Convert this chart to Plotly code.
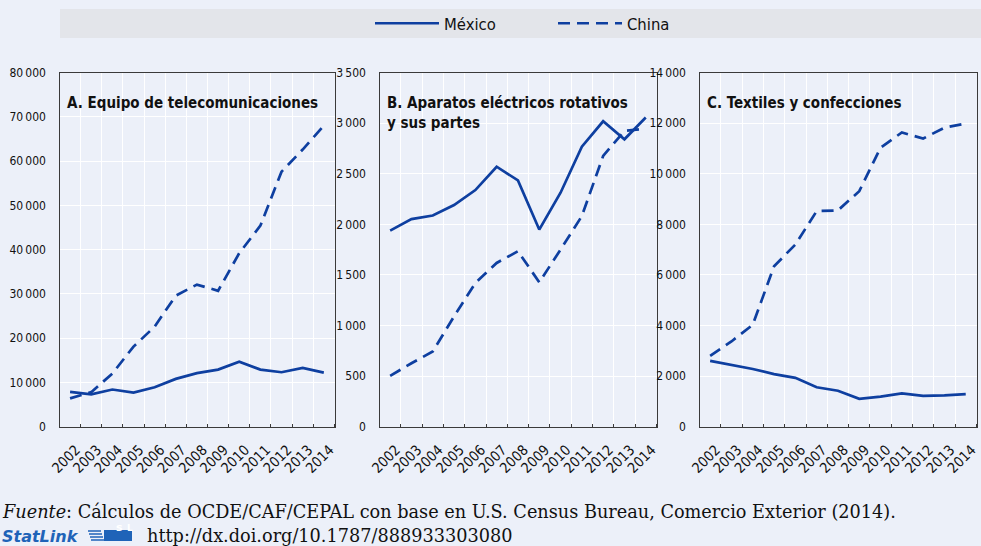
import plotly.graph_objects as go

# Years on the horizontal axis
years = list(range(2002, 2015))

# A. Equipo de telecomunicaciones (millones de USD)
telecom_mexico = [7850, 7300, 8400, 7700, 8900, 10800, 12100, 12900, 14700, 12900, 12300, 13300, 12200]
telecom_china = [6400, 7800, 12000, 18100, 22600, 29600, 32100, 30700, 39200, 45400, 57600, 62600, 68000]

# B. Aparatos eléctricos rotativos y sus partes
rotativos_mexico = [1938, 2051, 2087, 2190, 2338, 2569, 2434, 1948, 2312, 2767, 3018, 2840, 3055]
rotativos_china = [502, 627, 743, 1090, 1420, 1618, 1734, 1427, 1750, 2081, 2675, 2923, 2946]

# C. Textiles y confecciones
textiles_mexico = [2600, 2450, 2280, 2080, 1930, 1560, 1420, 1100, 1190, 1320, 1220, 1240, 1290]
textiles_china = [2800, 3370, 4030, 6340, 7200, 8520, 8550, 9310, 11030, 11630, 11390, 11820, 11980]

panel_titles = ["A. Equipo de telecomunicaciones",
                "B. Aparatos eléctricos rotativos<br>y sus partes",
                "C. Textiles y confecciones"]
y_max = [80000, 3500, 14000]
y_step = [10000, 500, 2000]
series_names = ["México", "China"]

W, H = 981, 546
BG = "#ECF0F9"
BLUE = "#0E3FA0"
AXIS = "#3A3A3A"
FONT = "Liberation Sans Narrow, DejaVu Sans Condensed, Arial Narrow, sans-serif"
SERIF = "DejaVu Serif, Liberation Serif, serif"

# Plot areas in pixels: (left, right)
x_px = [(59.5, 334.5), (379.5, 656.5), (699.5, 976.5)]
y_top, y_bot = 72.5, 426.7


def fx(px):
    return px / W


def fy(py):
    return 1 - py / H


def thou(v):
    return f"{v:,}".replace(",", "\u2009")


fig = go.Figure()
data = [(telecom_mexico, telecom_china), (rotativos_mexico, rotativos_china),
        (textiles_mexico, textiles_china)]

for i, (mex, chn) in enumerate(data):
    sfx = "" if i == 0 else str(i + 1)
    xa, ya = "x" + sfx, "y" + sfx
    fig.add_trace(go.Scatter(x=years, y=mex, mode="lines", name=series_names[0],
                             line=dict(color=BLUE, width=2.7), xaxis=xa, yaxis=ya,
                             legendgroup="mex", showlegend=(i == 0)))
    fig.add_trace(go.Scatter(x=years, y=chn, mode="lines", name=series_names[1],
                             line=dict(color=BLUE, width=2.7, dash="12px,7px"),
                             xaxis=xa, yaxis=ya,
                             legendgroup="chn", showlegend=(i == 0)))

    l, r = x_px[i]
    tick_y = list(range(0, y_max[i] + 1, y_step[i]))
    fig.update_layout(**{
        "xaxis" + sfx: dict(
            domain=[fx(l), fx(r)], anchor=ya, range=[2001.5, 2014.505],
            # year labels sit just left of each category boundary
            tickvals=[y + 0.28 for y in years], ticktext=[str(y) for y in years],
            tickangle=-45, tickfont=dict(size=14.3, color="#111", family=FONT),
            ticklabelstandoff=8, ticklabeloverflow="allow",
            showgrid=False, ticks="",
            # grid lines and tick marks on the category boundaries
            minor=dict(tickmode="array", tickvals=[y + 0.5 for y in years],
                       showgrid=True, gridcolor="white", gridwidth=1,
                       ticks="inside", ticklen=3, tickcolor=AXIS, tickwidth=1.3),
            showline=True, linecolor=AXIS, linewidth=1.3, mirror=True,
            zeroline=False, fixedrange=True, automargin=False),
        "yaxis" + sfx: dict(
            domain=[fy(y_bot), fy(y_top)], anchor=xa, range=[0, y_max[i]],
            tickvals=tick_y, ticktext=[thou(v) for v in tick_y],
            tickfont=dict(size=12, color="#111", family=FONT),
            ticklabelstandoff=10,
            showgrid=True, gridcolor="white", gridwidth=1.3,
            ticks="", showline=True, linecolor=AXIS, linewidth=1.3, mirror=True,
            zeroline=False, fixedrange=True, automargin=False),
    })
    # Panel title inside the plot area
    fig.add_annotation(text="<b>" + panel_titles[i] + "</b>", xref="paper", yref="paper",
                       x=fx(l + 5), y=fy(92), xanchor="left", yanchor="top",
                       align="left", showarrow=False,
                       font=dict(size=15, color="#111", family=FONT))

# Legend band
fig.add_shape(type="rect", xref="paper", yref="paper", x0=fx(60), x1=1,
              y0=fy(38), y1=fy(9), fillcolor="#E3E5EA", line=dict(width=0), layer="below")

# Source note and StatLink
fig.add_annotation(text="<i>Fuente</i>: Cálculos de OCDE/CAF/CEPAL con base en U.S. Census Bureau, "
                        "Comercio Exterior (2014).",
                   xref="paper", yref="paper", x=0, y=fy(512), xanchor="left",
                   yanchor="middle", showarrow=False,
                   font=dict(size=17.7, color="#111", family=SERIF))
fig.add_annotation(text="<b><i>StatLink</i></b>", xref="paper", yref="paper",
                   x=0, y=fy(536), xanchor="left", yanchor="middle", showarrow=False,
                   font=dict(size=16, color="#1F63B8", family="DejaVu Sans, sans-serif"))
fig.add_annotation(text="http://dx.doi.org/10.1787/888933303080", xref="paper", yref="paper",
                   x=fx(145), y=fy(536), xanchor="left", yanchor="middle", showarrow=False,
                   font=dict(size=17.7, color="#111", family=SERIF))
# Small StatLink logo
for k in range(4):
    fig.add_shape(type="line", xref="paper", yref="paper",
                  x0=fx(88 + k), x1=fx(101 + k), y0=fy(531 + 3 * k), y1=fy(531 + 3 * k),
                  line=dict(color="#1F63B8", width=1.5))
fig.add_shape(type="rect", xref="paper", yref="paper", x0=fx(104), x1=fx(132),
              y0=fy(541), y1=fy(530), fillcolor="#1F63B8", line=dict(width=0))
fig.add_annotation(text="<b>s</b>", xref="paper", yref="paper", x=fx(114), y=fy(536),
                   showarrow=False, font=dict(size=11, color="white", family="DejaVu Sans"))
fig.add_annotation(text="<b>L</b>", xref="paper", yref="paper", x=fx(125), y=fy(535),
                   showarrow=False, font=dict(size=9, color="white", family="DejaVu Sans"))

fig.update_layout(
    template="none",
    width=W, height=H, margin=dict(l=0, r=0, t=0, b=0, autoexpand=False),
    paper_bgcolor=BG, plot_bgcolor=BG,
    font=dict(family=FONT, color="#111"),
    legend=dict(orientation="h", x=fx(370), xanchor="left", y=fy(23.5), yanchor="middle",
                bgcolor="rgba(0,0,0,0)", font=dict(size=16.5, family=FONT, color="#111"),
                itemwidth=64, entrywidth=104, tracegroupgap=0),
    showlegend=True,
)

fig.write_html("out.html")
